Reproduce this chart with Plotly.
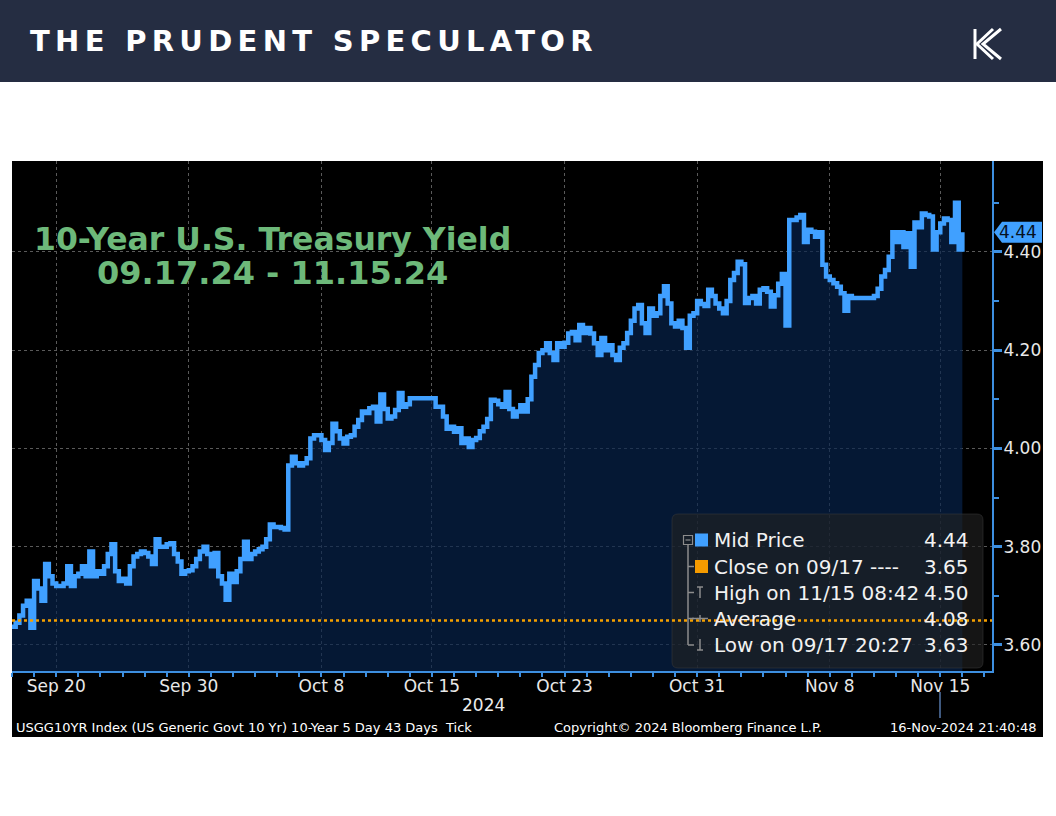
import pandas as pd
import plotly.graph_objects as go

# 10-year yield: 6 readings per trading day (every 4h)
trading_days = pd.bdate_range('2024-09-18', '2024-11-15')  # 43 days, Oct 14 / Nov 11 stay flat

wk_sep16 = [3.637, 3.645, 3.66, 3.68, 3.69, 3.635,
            3.73, 3.715, 3.69, 3.765, 3.74, 3.725,
            3.72, 3.72, 3.725, 3.76, 3.72, 3.74]
wk_sep23 = [3.745, 3.76, 3.74, 3.79, 3.74, 3.75,
            3.745, 3.76, 3.785, 3.805, 3.75, 3.73,
            3.735, 3.725, 3.76, 3.78, 3.785, 3.79,
            3.787, 3.78, 3.765, 3.815, 3.80, 3.80,
            3.805, 3.807, 3.785, 3.77, 3.745, 3.75]
wk_sep30 = [3.752, 3.76, 3.775, 3.79, 3.80, 3.785,
            3.76, 3.787, 3.74, 3.725, 3.692, 3.745,
            3.728, 3.75, 3.775, 3.81, 3.775, 3.785,
            3.79, 3.795, 3.80, 3.815, 3.845, 3.84,
            3.84, 3.838, 3.835, 3.965, 3.983, 3.97]
wk_oct07 = [3.965, 3.97, 3.98, 4.02, 4.027, 4.027,
            4.017, 3.997, 4.011, 4.05, 4.035, 4.02,
            4.01, 4.024, 4.027, 4.044, 4.058, 4.075,
            4.072, 4.082, 4.085, 4.055, 4.11, 4.08,
            4.061, 4.065, 4.078, 4.113, 4.085, 4.09]
wk_oct14 = [4.102, 4.102, 4.102, 4.102, 4.102, 4.102,
            4.102, 4.085, 4.085, 4.065, 4.04, 4.044,
            4.034, 4.041, 4.011, 4.02, 4.003, 4.017,
            4.021, 4.035, 4.044, 4.06, 4.099, 4.097,
            4.09, 4.085, 4.115, 4.08, 4.065, 4.075]
wk_oct21 = [4.088, 4.075, 4.10, 4.146, 4.17, 4.194,
            4.20, 4.214, 4.194, 4.18, 4.214, 4.207,
            4.215, 4.234, 4.237, 4.22, 4.251, 4.235,
            4.245, 4.234, 4.214, 4.19, 4.225, 4.20,
            4.21, 4.19, 4.18, 4.205, 4.214, 4.235]
wk_oct28 = [4.26, 4.285, 4.292, 4.255, 4.235, 4.285,
            4.27, 4.275, 4.31, 4.33, 4.295, 4.255,
            4.248, 4.26, 4.245, 4.205, 4.27, 4.275,
            4.30, 4.294, 4.29, 4.323, 4.31, 4.295,
            4.285, 4.275, 4.30, 4.343, 4.357, 4.38]
wk_nov04 = [4.375, 4.296, 4.306, 4.31, 4.295, 4.323,
            4.326, 4.319, 4.289, 4.312, 4.335, 4.355,
            4.25, 4.465, 4.465, 4.47, 4.475, 4.42,
            4.445, 4.441, 4.431, 4.44, 4.374, 4.35,
            4.343, 4.336, 4.329, 4.316, 4.28, 4.31]
wk_nov11 = [4.306, 4.306, 4.306, 4.306, 4.306, 4.306,
            4.31, 4.325, 4.35, 4.363, 4.39, 4.44,
            4.42, 4.44, 4.41, 4.438, 4.37, 4.46,
            4.45, 4.478, 4.475, 4.472, 4.405, 4.44,
            4.458, 4.468, 4.465, 4.42, 4.50, 4.405]
last_tick = 4.44
prior_close = 3.65

tick_dates = ['2024-09-20', '2024-09-30', '2024-10-08', '2024-10-15',
              '2024-10-23', '2024-10-31', '2024-11-08', '2024-11-15']
tick_text = ['Sep 20', 'Sep 30', 'Oct 8', 'Oct 15', 'Oct 23', 'Oct 31', 'Nov 8', 'Nov 15']

legend_labels = ['Mid Price', 'Close on 09/17 ----', 'High on 11/15 08:42', 'Average', 'Low on 09/17 20:27']
legend_values = ['4.44', '3.65', '4.50', '4.08', '3.63']

values = wk_sep16 + wk_sep23 + wk_sep30 + wk_oct07 + wk_oct14 + wk_oct21 + wk_oct28 + wk_nov04 + wk_nov11
values.append(last_tick)
times = [d + pd.Timedelta(hours=4 * q) for d in trading_days for q in range(6)]
times.append(pd.Timestamp('2024-11-15 23:59'))

BLUE = '#40a0ff'
AXIS = '#3d8fe0'
GRID = '#5a5a5a'
FONT = 'DejaVu Sans'

# plot area in page pixels: x 12..992, y 161..671
L, R, T, B = 12, 992, 161, 671
def px(x):
    return (x - L) / (R - L)
def py(y):
    return (B - y) / (B - T)

fig = go.Figure()
fig.add_trace(go.Scatter(
    x=times, y=values, mode='lines', line=dict(color=BLUE, width=4.5, shape='hv'),
    fill='tozeroy', fillcolor='rgba(8,36,76,0.68)', hoverinfo='skip'))

shapes = []
# header bar and black chart panel
shapes.append(dict(type='rect', xref='paper', yref='paper', x0=px(0), x1=px(1056), y0=py(82), y1=py(0),
                   fillcolor='#252d42', line_width=0, layer='below'))
shapes.append(dict(type='rect', xref='paper', yref='paper', x0=px(12), x1=px(1043), y0=py(737), y1=py(161),
                   fillcolor='black', line_width=0, layer='below'))

# legend panel (rounded)
x0, x1, y0, y1, r = 672, 983, 514, 668, 6
box = (f"M {px(x0 + r)},{py(y0)} L {px(x1 - r)},{py(y0)} Q {px(x1)},{py(y0)} {px(x1)},{py(y0 + r)} "
       f"L {px(x1)},{py(y1 - r)} Q {px(x1)},{py(y1)} {px(x1 - r)},{py(y1)} "
       f"L {px(x0 + r)},{py(y1)} Q {px(x0)},{py(y1)} {px(x0)},{py(y1 - r)} "
       f"L {px(x0)},{py(y0 + r)} Q {px(x0)},{py(y0)} {px(x0 + r)},{py(y0)} Z")
shapes.append(dict(type='path', xref='paper', yref='paper', path=box,
                   fillcolor='rgba(34,34,34,0.62)', line=dict(color='rgba(60,60,60,0.5)', width=1)))

# prior close line
shapes.append(dict(type='line', xref='paper', yref='y', x0=0, x1=1, y0=prior_close, y1=prior_close,
                   line=dict(color='#f5a000', width=2.5, dash='dot')))

rows = [540, 566.5, 592.5, 618.5, 645]
TREE = '#8c8c8c'
def seg(xa, ya, xb, yb, color=TREE, w=1.5):
    shapes.append(dict(type='line', xref='paper', yref='paper', x0=px(xa), y0=py(ya), x1=px(xb), y1=py(yb),
                       line=dict(color=color, width=w)))
seg(688, 545, 688, 645)
shapes.append(dict(type='rect', xref='paper', yref='paper', x0=px(683.5), x1=px(692.5), y0=py(544.5), y1=py(535.5),
                   line=dict(color=TREE, width=1.2)))
seg(685.5, 540, 690.5, 540, w=1.2)
for yy in rows[1:]:
    seg(688, yy, 694, yy)
seg(697, 587, 703, 587)
seg(700, 587, 700, 598)
seg(692, rows[3], 708, rows[3])
seg(700, rows[3] - 3.5, 700, rows[3] + 3.5)
seg(700, 639, 700, 650)
seg(697, 650, 703, 650)
for yy, col in [(rows[0], BLUE), (rows[1], '#f59b00')]:
    shapes.append(dict(type='rect', xref='paper', yref='paper', x0=px(695), x1=px(708), y0=py(yy + 6.5),
                       y1=py(yy - 6.5), fillcolor=col, line_width=0))

# last price callout on the right axis
h = 10.5 / 491.25
callout = (f"M {px(994)},{last_tick} L {px(1002)},{last_tick + h} L {px(1042)},{last_tick + h} "
           f"L {px(1042)},{last_tick - h} L {px(1002)},{last_tick - h} Z")
shapes.append(dict(type='path', xref='paper', yref='y', path=callout, fillcolor=BLUE, line_width=0))

# little separator under Nov 15
seg(940, 692, 940, 718, color='#5577aa', w=1.5)

# logo (rough K)
for pts in [[(975, 29), (975, 59)], [(1001, 29), (983, 44), (1001, 59)], [(993, 29), (977, 44), (993, 59)]]:
    path = 'M ' + ' L '.join(f'{px(a)},{py(b)}' for a, b in pts)
    shapes.append(dict(type='path', xref='paper', yref='paper', path=path, line=dict(color='white', width=3)))

ann = []
def text(x, y, s, size, color='#ececec', xanchor='center', bold=False):
    ann.append(dict(xref='paper', yref='paper', x=px(x), y=py(y), text=('<b>%s</b>' % s) if bold else s,
                    showarrow=False, xanchor=xanchor, yanchor='middle',
                    font=dict(family=FONT, size=size, color=color)))

text(28, 41, '<span style="letter-spacing:5.3px">THE PRUDENT SPECULATOR</span>', 29, 'white', 'left', bold=True)
text(272, 239, '10-Year U.S. Treasury Yield', 31.5, '#6db97a', bold=True)
text(272, 273, '09.17.24 - 11.15.24', 32, '#6db97a', bold=True)
for yy, lab, val in zip(rows, legend_labels, legend_values):
    text(712, yy, lab, 20, '#f2f2f2', 'left')
    text(971, yy, val, 20, '#f2f2f2', 'right')
text(1018, 232, f'{last_tick:.2f}', 17, '#06121f')
text(483, 705, '2024', 17)
text(14, 727, 'USGG10YR Index (US Generic Govt 10 Yr) 10-Year 5 Day 43 Days&nbsp;&nbsp;Tick', 13, 'white', 'left')
text(688, 727, 'Copyright© 2024 Bloomberg Finance L.P.', 13, 'white')
text(1039, 727, '16-Nov-2024 21:40:48', 13, 'white', 'right')

fig.update_layout(
    template='none', width=1056, height=816, showlegend=False,
    margin=dict(l=L, r=1056 - R, t=T, b=816 - B, pad=0),
    paper_bgcolor='white', plot_bgcolor='black',
    font=dict(family=FONT),
    shapes=shapes, annotations=ann,
    xaxis=dict(type='date', range=['2024-09-18', '2024-11-19 08:10'],
               rangebreaks=[dict(bounds=['sat', 'mon'])],
               tickmode='array', tickvals=tick_dates, ticktext=tick_text,
               showgrid=True, gridcolor=GRID, griddash='dot', gridwidth=1,
               ticks='outside', ticklen=4, tickcolor=AXIS, tickwidth=1.5, ticklabelstandoff=-5,
               showline=True, linecolor=AXIS, linewidth=2, zeroline=False, automargin=False,
               tickfont=dict(family=FONT, size=17, color='#e8e8e8'),
               minor=dict(dtick=86400000, ticks='outside', ticklen=4, tickcolor=AXIS, tickwidth=1.5, showgrid=False)),
    yaxis=dict(side='right', range=[3.547, 4.585], tick0=0, dtick=0.2, tickformat='.2f',
               showgrid=True, gridcolor=GRID, griddash='dot', gridwidth=1,
               ticks='outside', ticklen=8, tickwidth=2.5, tickcolor=AXIS, ticklabelstandoff=-2,
               showline=True, linecolor=AXIS, linewidth=2, zeroline=False, automargin=False,
               tickfont=dict(family=FONT, size=17, color='#e8e8e8'),
               minor=dict(dtick=0.1, ticks='outside', ticklen=5, tickcolor=AXIS, tickwidth=1.5, showgrid=False)),
)

# page body has an 8px default margin; drop it so the figure sits at the window's corner
fig.write_html('out.html', config={'displayModeBar': False},
               post_script="document.body.style.margin='0';")
